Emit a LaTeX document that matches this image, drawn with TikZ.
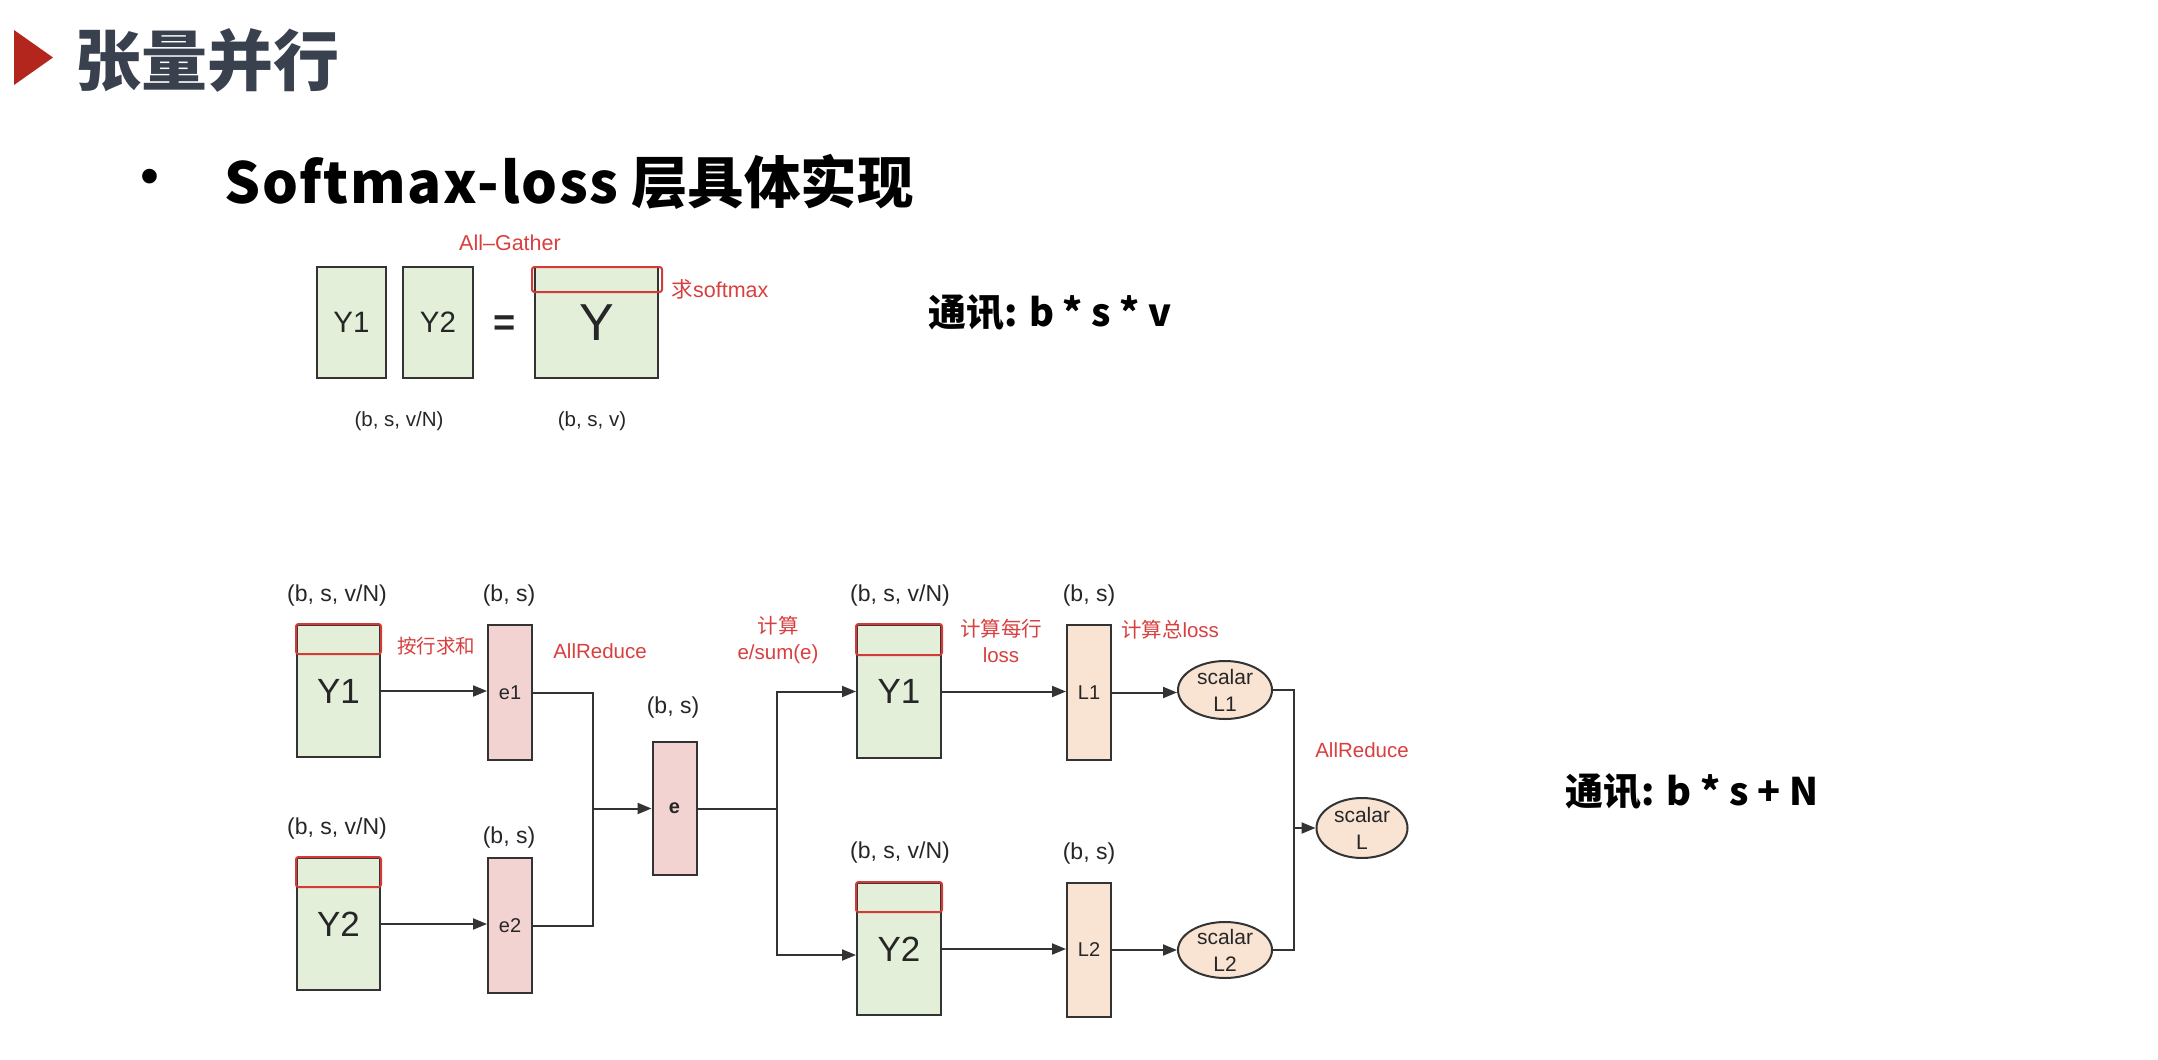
\documentclass[tikz,border=0pt]{standalone}
\usepackage{fontspec}
\setmainfont{Liberation Sans}
\newfontfamily\cjk{Noto Sans CJK SC}
\usetikzlibrary{arrows.meta,shapes.geometric,calc}

\definecolor{boxgreen}{HTML}{E3EFD9}
\definecolor{boxpink}{HTML}{F3D2D2}
\definecolor{boxpeach}{HTML}{F9E4D4}
\definecolor{linedark}{HTML}{333333}
\definecolor{redlabel}{HTML}{D8403F}
\definecolor{redhead}{HTML}{D43A36}
\definecolor{titleslate}{HTML}{39414F}
\definecolor{triared}{HTML}{B3261E}

\tikzset{
  tensor/.style={draw=linedark, line width=2pt, fill=boxgreen, minimum width=83pt,
    minimum height=132pt, inner sep=0pt, text=black!85, font=\fontsize{35}{36}\selectfont},
  vecbox/.style={draw=linedark, line width=2pt, fill=boxpink, minimum width=44pt,
    minimum height=135pt, inner sep=0pt, text=black!85, font=\fontsize{20}{22}\selectfont},
  lossbox/.style={vecbox, fill=boxpeach},
  scal/.style={ellipse, draw=linedark, line width=2pt, fill=boxpeach, minimum width=94pt,
    minimum height=58pt, inner sep=-4pt, align=center, text=black!85,
    font=\fontsize{21}{27}\selectfont},
  head/.style={draw=redhead, line width=2pt, rounded corners=2.5pt},
  dim/.style={text=black!85, font=\fontsize{23}{24}\selectfont},
  note/.style={text=redlabel, align=center, font=\fontsize{20.5}{26}\selectfont},
  comm/.style={text=black, font=\cjk\bfseries\fontsize{38}{40}\selectfont},
  wire/.style={draw=linedark, line width=2pt},
  arr/.style={wire, -{Triangle[length=14pt,width=11pt]}},
}

\begin{document}
\begin{tikzpicture}[x=1pt,y=-1pt]
\useasboundingbox[fill=white] (0,0) rectangle (2158,1060);

% heading
\fill[triared] (14,30) -- (53,57.5) -- (14,85) -- cycle;
\node[anchor=west, inner sep=0pt, text=titleslate,
  font=\cjk\bfseries\fontsize{66}{70}\selectfont] (title) at (75,60) {张量并行};
\node[font=\fontsize{54}{54}\selectfont] (bul) at (150,182) {•};
\node[anchor=west, inner sep=0pt, font=\cjk\bfseries\fontsize{56.5}{60}\selectfont]
  (sub) at (224,182) {{\addfontfeature{LetterSpace=3}Softmax-loss} 层具体实现};

% all-gather of the logits
\node[tensor, minimum width=69pt, minimum height=111pt, font=\fontsize{29.5}{30}\selectfont]
  (tY1) at (351.5,322.5) {Y1};
\node[tensor, minimum width=70pt, minimum height=111pt, font=\fontsize{29.5}{30}\selectfont]
  (tY2) at (438,322.5) {Y2};
\node[text=black!85, font=\bfseries\fontsize{38}{38}\selectfont] (teq) at (505,326) {=};
\node[tensor, minimum width=123pt, minimum height=111pt, font=\fontsize{52}{52}\selectfont]
  (tY) at (596.5,322.5) {Y};
\draw[head] ($(tY.north west)+(-2,1)$) rectangle ($(tY.north east)+(3,26)$);
\node[note, font=\fontsize{21.5}{24}\selectfont] (gather) at (510,243) {All–Gather};
\node[note, font=\fontsize{21.5}{24}\selectfont] (smax) at (720,289) {{\cjk 求}softmax};
\node[dim, font=\fontsize{20.5}{22}\selectfont] (dtY) at (399,421) {(b, s, v/N)};
\node[dim, font=\fontsize{20.5}{22}\selectfont] (dtYall) at (592,421) {(b, s, v)};
\node[comm] (comm1) at (1050,313) {通讯: b * s * v};

% per-rank softmax-loss pipeline
\node[tensor] (lY1) at (338.5,691) {Y1};
\draw[head] (lY1.north west) rectangle ($(lY1.north east)+(0,30)$);
\node[tensor] (lY2) at (338.5,924) {Y2};
\draw[head] (lY2.north west) rectangle ($(lY2.north east)+(0,30)$);
\node[vecbox] (e1) at (510,692.5) {e1};
\node[vecbox] (e2) at (510,925.5) {e2};
\node[vecbox, minimum height=133pt, font=\bfseries\fontsize{20}{22}\selectfont]
  (e) at (674.5,808.5) {e};
\node[tensor, minimum width=84pt, minimum height=133pt] (rY1) at (899,691.5) {Y1};
\draw[head] (rY1.north west) rectangle ($(rY1.north east)+(0,31)$);
\node[tensor, minimum width=84pt, minimum height=132pt] (rY2) at (899,949) {Y2};
\draw[head] (rY2.north west) rectangle ($(rY2.north east)+(0,30)$);
\node[lossbox] (L1) at (1089,692.5) {L1};
\node[lossbox, minimum height=134pt] (L2) at (1089,950) {L2};
\node[scal] (sL1) at (1225,690) {scalar\\L1};
\node[scal, minimum height=56pt] (sL2) at (1225,950) {scalar\\L2};
\node[scal, minimum width=91pt, minimum height=60pt] (sL) at (1362,828) {scalar\\L};

% shape labels
\node[dim] (dlY1) at (337,596) {(b, s, v/N)};
\node[dim] (de1) at (509,596) {(b, s)};
\node[dim] (dlY2) at (337,829) {(b, s, v/N)};
\node[dim] (de2) at (509,838) {(b, s)};
\node[dim] (de) at (673,708) {(b, s)};
\node[dim] (drY1) at (900,596) {(b, s, v/N)};
\node[dim] (dL1) at (1089,596) {(b, s)};
\node[dim] (drY2) at (900,853) {(b, s, v/N)};
\node[dim] (dL2) at (1089,854) {(b, s)};

% step annotations
\node[note, font=\cjk\fontsize{19.5}{22}\selectfont] (nsum) at (436,646) {按行求和};
\node[note] (nred1) at (600,651) {AllReduce};
\node[note] (ndiv) at (778,640) {{\cjk 计算}\\e/sum(e)};
\node[note] (nrow) at (1001,641) {{\cjk 计算每行}\\loss};
\node[note] (ntot) at (1170,630) {{\cjk 计算总}loss};
\node[note] (nred2) at (1362,750) {AllReduce};
\node[comm] (comm2) at (1692,792) {通讯: b * s + N};

% connectors
\draw[arr] (lY1.east) -- (lY1.east -| e1.west);
\draw[arr] (lY2.east) -- (lY2.east -| e2.west);
\coordinate (m1) at (592.5,808.5);
\draw[wire] (e1.east) -| (m1);
\draw[wire] (e2.east) -| (m1);
\draw[arr] (m1) -- (e.west);
\coordinate (m2) at (777,808.5);
\draw[wire] (e.east) -- (m2);
\draw[arr] (m2) |- (rY1.west);
\draw[arr] (m2) |- ([yshift=-6pt]rY2.west);
\draw[arr] (rY1.east) -- (rY1.east -| L1.west);
\draw[arr] (rY2.east) -- (rY2.east -| L2.west);
\draw[arr] (L1.east) -- (L1.east -| sL1.west);
\draw[arr] (L2.east) -- (L2.east -| sL2.west);
\coordinate (m3) at (1294,828);
\draw[wire] (sL1.east) -| (m3);
\draw[wire] (sL2.east) -| (m3);
\draw[arr] (m3) -- (sL.west);
\end{tikzpicture}
\end{document}
